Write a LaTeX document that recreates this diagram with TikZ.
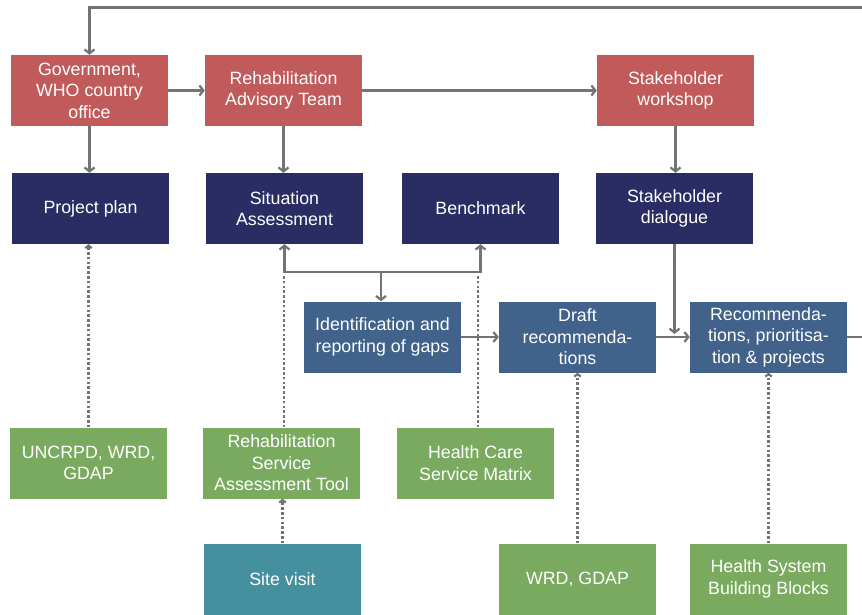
\documentclass[tikz,border=0pt]{standalone}
\usepackage{fontspec}
\setmainfont{Liberation Sans}
\usetikzlibrary{arrows.meta,calc}
\definecolor{cred}{HTML}{C15A5A}
\definecolor{cnavy}{HTML}{292D63}
\definecolor{csteel}{HTML}{41628B}
\definecolor{cgreen}{HTML}{7AAA5F}
\definecolor{cteal}{HTML}{45909F}
\definecolor{cline}{HTML}{727374}
\tikzset{
  box/.style={minimum width=157pt, minimum height=71pt, inner sep=0pt, align=center,
    text=white, font=\fontsize{17.8}{21.5}\selectfont},
  redbox/.style={box, fill=cred},
  navybox/.style={box, fill=cnavy},
  steelbox/.style={box, fill=csteel},
  greenbox/.style={box, fill=cgreen},
  tealbox/.style={box, fill=cteal},
  arr/.style={draw=cline, line width=2.2pt, -{Straight Barb[length=4pt,width=10pt]}},
  dotarr/.style={draw=cline, line width=2.2pt, dash pattern=on 2.6pt off 2.2pt, -{Straight Barb[length=2.5pt,width=6.5pt]}},
  dotln/.style={draw=cline, line width=2.2pt, dash pattern=on 2.6pt off 2.2pt},
}
\begin{document}
\begin{tikzpicture}[x=1pt,y=-1pt]
\useasboundingbox (0,0) rectangle (862,614);
% row 1
\node[redbox] (GO) at (89.5,90.5) {Government,\\WHO country\\office};
\node[redbox] (RA) at (283.5,90.5) {Rehabilitation\\Advisory Team};
\node[redbox] (SW) at (675.5,90.5) {Stakeholder\\workshop};
% row 2
\node[navybox] (PP) at (90.5,208.5) {Project plan};
\node[navybox] (SA) at (284.5,208.5) {Situation\\Assessment};
\node[navybox] (BM) at (480.5,208.5) {Benchmark};
\node[navybox] (SD) at (674.5,208.5) {Stakeholder\\dialogue};
% row 3
\node[steelbox] (ID) at (382.5,337) {Identification and\\reporting of gaps};
\node[steelbox] (DR) at (577.5,337) {Draft\\recommenda-\\tions};
\node[steelbox] (RC) at (768.5,337) {Recommenda-\\tions, prioritisa-\\tion \& projects};
% row 4
\node[greenbox] (UN) at (88.5,463) {UNCRPD, WRD,\\GDAP};
\node[greenbox] (RS) at (281.5,463) {Rehabilitation\\Service\\Assessment Tool};
\node[greenbox] (HC) at (475.5,463) {Health Care\\Service Matrix};
% row 5
\node[tealbox] (SV) at (282.5,579) {Site visit};
\node[greenbox] (WG) at (577.5,579) {WRD, GDAP};
\node[greenbox] (HS) at (768.5,579) {Health System\\Building Blocks};
% coordinates
\coordinate (TR) at (885,7.5);
\coordinate (J) at (381,272);
% solid connectors
\draw[arr] (RC.east) -- (RC.east -| TR) -- (TR) -| (GO.north);
\draw[arr] (GO.east) -- (RA.west);
\draw[arr] (RA.east) -- (SW.west);
\draw[arr] (GO.south) -- (GO.south |- PP.north);
\draw[arr] (RA.south) -- (RA.south |- SA.north);
\draw[arr] (SW.south) -- (SW.south |- SD.north);
\draw[arr] (SD.south) -- ($(SD.south |- DR.east)+(0,-3)$);
\draw[arr] (J) -- (J |- ID.north);
\draw[arr] (J) -| (SA.south);
\draw[arr] (J) -| (BM.south);
\draw[arr] (ID.east) -- (DR.west);
\draw[arr] (DR.east) -- (RC.west);
% dotted connectors
\draw[dotarr] (UN.north) -- (UN.north |- PP.south);
\draw[dotln] ($(RS.north)+(2.5,0)$) -- ($(RS.north |- J)+(2.5,4)$);
\draw[dotln] ($(HC.north)+(2.5,0)$) -- ($(HC.north |- J)+(2.5,4)$);
\draw[dotarr] (SV.north) -- (SV.north |- RS.south);
\draw[dotarr] (WG.north) -- (WG.north |- DR.south);
\draw[dotarr] (HS.north) -- (HS.north |- RC.south);
\end{tikzpicture}
\end{document}
